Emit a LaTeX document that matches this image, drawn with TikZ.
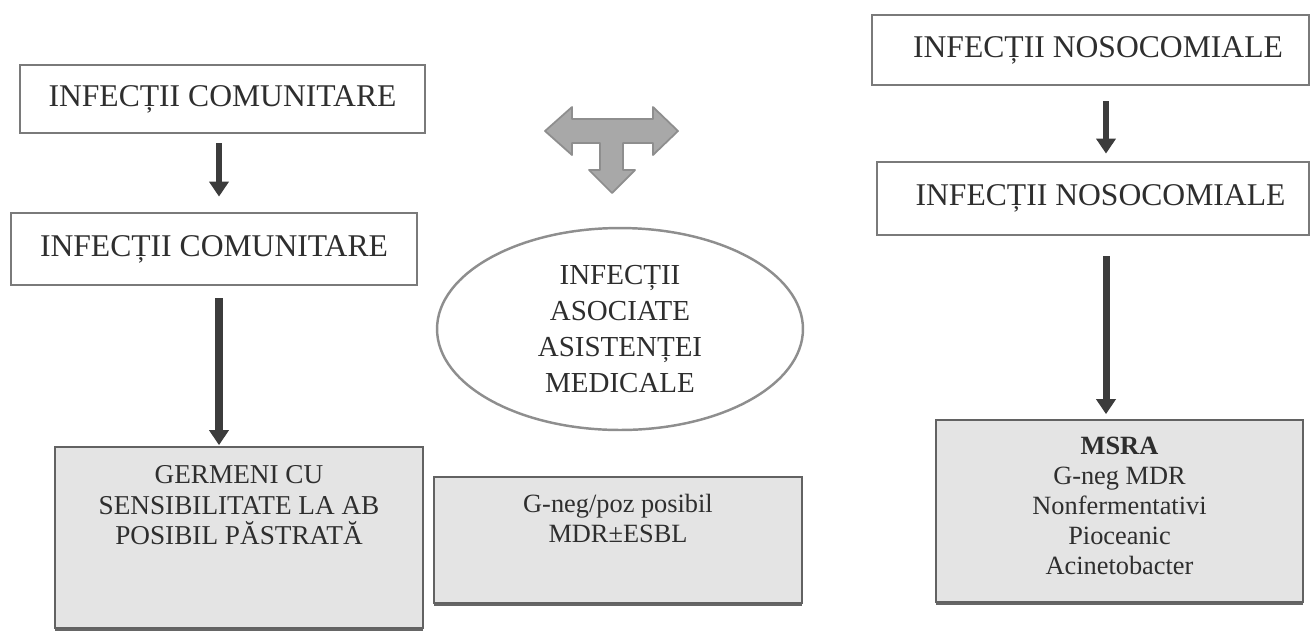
\documentclass[tikz,border=0pt]{standalone}
\usepackage{fontspec}
\setmainfont{Liberation Serif}
\usetikzlibrary{arrows.meta,shapes.geometric,shadows}
\definecolor{boxline}{HTML}{7A7A7A}
\definecolor{inktext}{HTML}{2E2E2E}
\definecolor{arrowink}{HTML}{3C3C3C}
\definecolor{panelfill}{HTML}{E4E4E4}
\definecolor{teefill}{HTML}{A8A8A8}
\definecolor{teeline}{HTML}{8E8E8E}
\tikzset{framebox/.style={draw=boxline,line width=1.6pt,inner sep=0pt,text=inktext,font=\fontsize{18}{22}\selectfont},
         panelbox/.style={draw=boxline!80!black,line width=1pt,fill=panelfill,inner sep=0pt,
                          drop shadow={shadow xshift=0pt,shadow yshift=-1.6pt,fill=black!60,opacity=1}},
         paneltext/.style={inner sep=0pt,align=center,text=inktext,font=\fontsize{15.5}{17.5}\selectfont},
         downarrow/.style={draw=arrowink,line width=3.6pt,-{Triangle[width=0.38cm,length=0.3cm]}}}

\begin{document}
\begin{tikzpicture}[x=0.02cm,y=-0.02cm]
                  \useasboundingbox (0,0) rectangle (1311,630);
                  \coordinate (leftcol) at (219,0);
                  \coordinate (rightcol) at (1106,0);
                  \node[framebox,minimum width=8.1cm,minimum height=1.36cm] (comA) at (222.5,99) {INFECȚII COMUNITARE};
                  \node[framebox,minimum width=8.12cm,minimum height=1.44cm] (comB) at (214,249) {INFECȚII COMUNITARE};
                  \node[panelbox,minimum width=7.36cm,minimum height=3.62cm] (germ) at (239,537.5) {};
                  \node[paneltext,anchor=north] (germtext) at (239,465) {GERMENI CU\\SENSIBILITATE LA AB\\POSIBIL PĂSTRATĂ};
                  \node[framebox,minimum width=8.74cm,minimum height=1.4cm] (nosA) at (1090.5,50) {\hspace{0.3cm}INFECȚII NOSOCOMIALE};
                  \node[framebox,minimum width=8.64cm,minimum height=1.46cm] (nosB) at (1093,198.5) {\hspace{0.3cm}INFECȚII NOSOCOMIALE};
                  \node[panelbox,minimum width=7.34cm,minimum height=3.64cm] (germnos) at (1119.5,511) {};
                  \node[paneltext,font=\fontsize{15}{17}\selectfont] (germnostext) at (1119.5,506) {\textbf{MSRA}\\G-neg MDR\\Nonfermentativi\\Pioceanic\\Acinetobacter};
                  \node[ellipse,draw=teeline,line width=1.4pt,minimum width=7.32cm,minimum height=4.04cm,inner sep=0pt,
                        align=center,text=inktext,font=\fontsize{16.5}{20.5}\selectfont] (asoc) at (620,329) {INFECȚII\\ASOCIATE\\ASISTENȚEI\\MEDICALE};
                  \node[panelbox,minimum width=7.36cm,minimum height=2.52cm] (germasoc) at (618,540) {};
                  \node[paneltext,font=\fontsize{15}{17}\selectfont,anchor=north] (germasoctext) at (618,494) {G-neg/poz posibil\\MDR±ESBL};
                  \draw[downarrow,shorten <=0.18cm,shorten >=0.3cm] (comA.south -| leftcol) -- (comB.north -| leftcol);
                  \draw[downarrow,line width=4pt,shorten <=0.24cm,shorten >=0.02cm] (comB.south -| leftcol) -- (germ.north -| leftcol);
                  \draw[downarrow,shorten <=0.3cm,shorten >=0.14cm] (nosA.south -| rightcol) -- (nosB.north -| rightcol);
                  \draw[downarrow,line width=4pt,shorten <=0.4cm,shorten >=0.1cm] (nosB.south -| rightcol) -- (germnos.north -| rightcol);
                  \filldraw[fill=teefill,draw=teeline,line width=1pt,line join=round]
                        (545,131) -- (572,107) -- (572,119) -- (653,119) -- (653,107) -- (678,131) -- (653,155) -- (653,143)
                        -- (623,143) -- (623,170) -- (635,170) -- (612,193) -- (589,170) -- (600,170) -- (600,143)
                        -- (572,143) -- (572,155) -- cycle;
              \end{tikzpicture}
\end{document}
